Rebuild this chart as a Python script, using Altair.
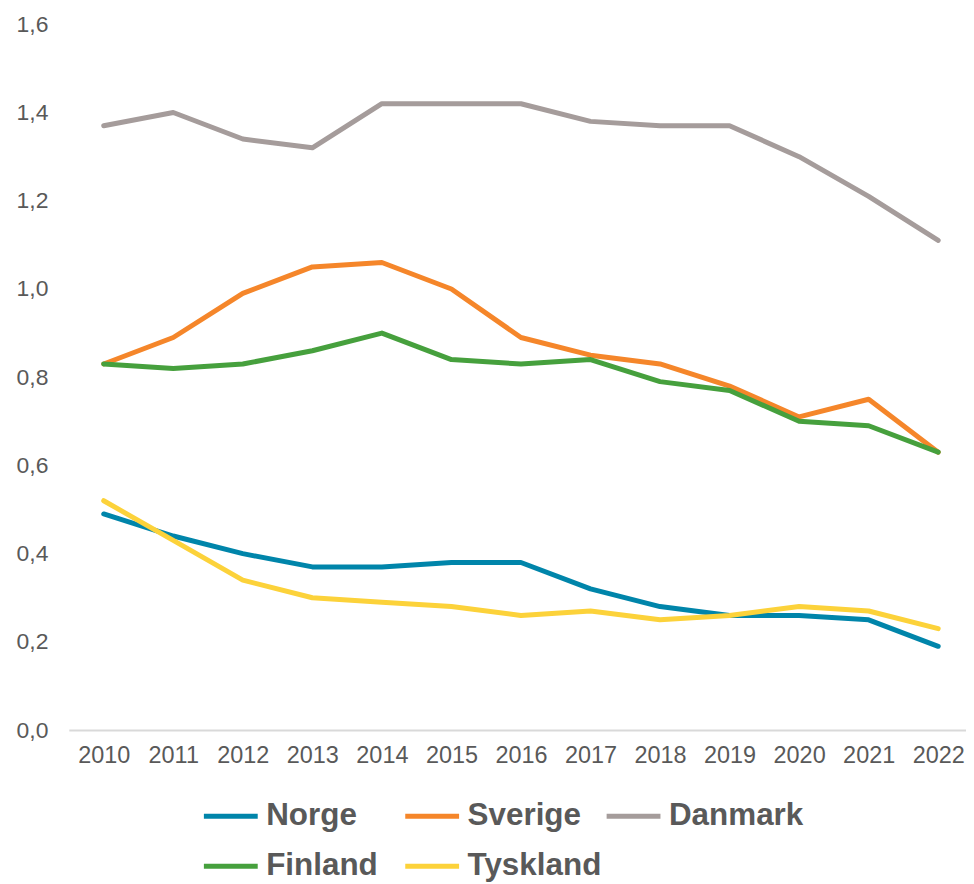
import altair as alt
import pandas as pd

years = list(range(2010, 2023))
series = ["Norge", "Sverige", "Danmark", "Finland", "Tyskland"]
colors = ["#0085AA", "#F5862A", "#A59C9B", "#46A03D", "#FCD23A"]

norge = [0.49, 0.44, 0.40, 0.37, 0.37, 0.38, 0.38, 0.32, 0.28, 0.26, 0.26, 0.25, 0.19]
sverige = [0.83, 0.89, 0.99, 1.05, 1.06, 1.00, 0.89, 0.85, 0.83, 0.78, 0.71, 0.75, 0.63]
danmark = [1.37, 1.40, 1.34, 1.32, 1.42, 1.42, 1.42, 1.38, 1.37, 1.37, 1.30, 1.21, 1.11]
finland = [0.83, 0.82, 0.83, 0.86, 0.90, 0.84, 0.83, 0.84, 0.79, 0.77, 0.70, 0.69, 0.63]
tyskland = [0.52, 0.43, 0.34, 0.30, 0.29, 0.28, 0.26, 0.27, 0.25, 0.26, 0.28, 0.27, 0.23]

values = [norge, sverige, danmark, finland, tyskland]
y_ticks = [0, 0.2, 0.4, 0.6, 0.8, 1.0, 1.2, 1.4, 1.6]

rows = []
for i, (name, vals) in enumerate(zip(series, values)):
    for yr, v in zip(years, vals):
        rows.append({"Land": name, "År": yr, "Verdi": v, "idx": i})
df = pd.DataFrame(rows)

FONT = "Liberation Sans"
GREY = "#595959"

chart = (
    alt.Chart(df)
    .mark_line(strokeWidth=5, strokeJoin="round", strokeCap="round")
    .encode(
        x=alt.X(
            "År:Q",
            scale=alt.Scale(domain=[2009.498, 2022.40], nice=False, zero=False),
            axis=alt.Axis(
                values=years,
                format="d",
                title=None,
                ticks=False,
                grid=False,
                domainColor="#D9D9D9",
                domainWidth=2,
                labelFont=FONT,
                labelFontSize=23.5,
                labelColor=GREY,
                labelPadding=13,
                labelFlush=False,
            ),
        ),
        y=alt.Y(
            "Verdi:Q",
            scale=alt.Scale(domain=[0, 1.6], nice=False),
            axis=alt.Axis(
                values=y_ticks,
                labelExpr="replace(format(datum.value, '.1f'), '.', ',')",
                title=None,
                ticks=False,
                grid=False,
                domain=False,
                labelFont=FONT,
                labelFontSize=23,
                labelColor=GREY,
                labelPadding=21,
            ),
        ),
        color=alt.Color(
            "Land:N",
            scale=alt.Scale(domain=series, range=colors),
            sort=series,
            legend=alt.Legend(
                title=None,
                orient="none",
                legendX=133,
                legendY=765,
                direction="horizontal",
                columns=3,
                gridAlign="all",
                columnPadding=-6,
                rowPadding=5,
                padding=0,
                symbolType="stroke",
                symbolSize=2916,
                symbolStrokeWidth=5,
                labelOffset=6,
                labelFont=FONT,
                labelFontSize=31.5,
                labelFontWeight="bold",
                labelColor=GREY,
                labelLimit=400,
            ),
        ),
        order=alt.Order("idx:Q"),
    )
    .properties(
        width=900,
        height=708,
        padding={"left": 61, "top": 15, "right": 0, "bottom": 152},
        autosize=alt.AutoSizeParams(type="none"),
        background="white",
    )
    .configure_view(strokeWidth=0, stroke="transparent")
)

chart.save("out.html", embed_options={"renderer": "svg", "actions": False})
